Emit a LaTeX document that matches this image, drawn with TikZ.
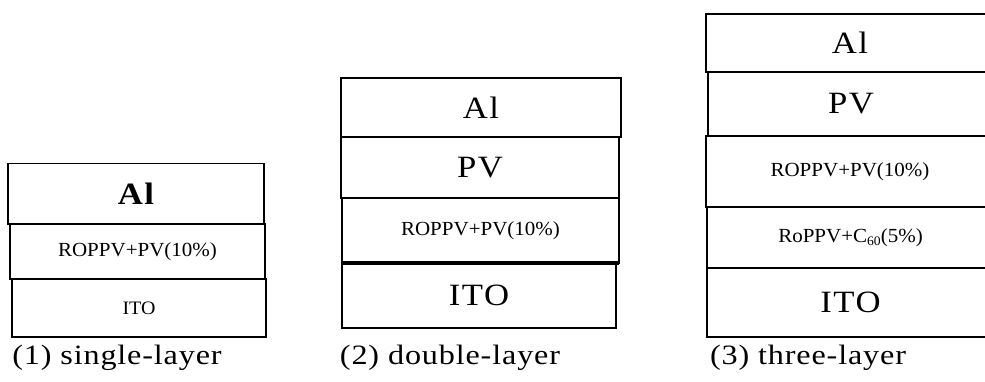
\documentclass[tikz,border=0pt]{standalone}
\usepackage{fontspec}
\setmainfont{Liberation Serif}
\newfontfamily\capfont{Liberation Serif}[FakeStretch=1.15, LetterSpace=3]
\newfontfamily\bigfont{Liberation Serif}[FakeStretch=1.12, LetterSpace=5]
\newfontfamily\smallfont{Liberation Serif}[FakeStretch=1.05]
\newcommand{\bigtxt}{\bigfont\fontsize{31}{34}\selectfont}
\newcommand{\smalltxt}{\smallfont\fontsize{20}{23}\selectfont}
\newcommand{\captxt}{\capfont\fontsize{28}{31}\selectfont}
\tikzset{
  layer/.style={draw=black, line width=1.6pt, inner sep=0pt, outer sep=0pt, fill=white},
  caption/.style={inner sep=0pt, font=\captxt},
  thickline/.style={line width=3.6pt},
  midline/.style={line width=2.6pt}
}
\begin{document}
\begin{tikzpicture}[x=1pt,y=-1pt]
\clip (0,0) rectangle (985,382);
\fill[white] (0,0) rectangle (985,382);
% stack 1
\node[layer, minimum width=256pt, minimum height=61pt, font=\bigtxt\bfseries] (s1al) at (136,194) {Al};
\node[layer, minimum width=255pt, minimum height=55pt, font=\smalltxt] (s1ro) at (137.5,251.5) {ROPPV+PV(10\%)};
\node[layer, minimum width=254pt, minimum height=58pt, font=\smallfont\fontsize{19}{22}\selectfont] (s1ito) at (139,308) {ITO};
\node[caption] (c1) at (117,358) {(1) single-layer};
% stack 2
\node[layer, minimum width=280pt, minimum height=59pt, font=\bigtxt] (s2al) at (481,107.5) {Al};
\node[layer, minimum width=278pt, minimum height=61pt, font=\bigtxt] (s2pv) at (480,167.5) {PV};
\node[layer, minimum width=277pt, minimum height=65pt, font=\smalltxt] (s2ro) at (480.5,230.5) {ROPPV+PV(10\%)};
\node[layer, minimum width=274pt, minimum height=65pt, font=\bigtxt] (s2ito) at (479,295.5) {ITO};
\draw[thickline] (s2ro.south west) -- (s2ro.south east);
\node[caption] (c2) at (450,358) {(2) double-layer};
% stack 3
\node[layer, minimum width=288pt, minimum height=58pt, font=\bigtxt] (s3al) at (850,43) {Al};
\node[layer, minimum width=286pt, minimum height=64pt, font=\bigtxt] (s3pv) at (851,104) {PV};
\node[layer, minimum width=288pt, minimum height=71pt, font=\smalltxt] (s3ro) at (850,171.5) {ROPPV+PV(10\%)};
\node[layer, minimum width=287pt, minimum height=61pt, font=\smalltxt] (s3c) at (850.5,237.5) {RoPPV+C\raisebox{-0.3ex}{\fontsize{13}{15}\selectfont 60}(5\%)};
\node[layer, minimum width=287pt, minimum height=69pt, font=\bigtxt] (s3ito) at (850.5,302.5) {ITO};
\draw[midline] (s3al.south west) -- (s3al.south east);
\draw[midline] (s3pv.south west) -- (s3pv.south east);
\node[caption] (c3) at (808,358) {(3) three-layer};
\end{tikzpicture}
\end{document}
